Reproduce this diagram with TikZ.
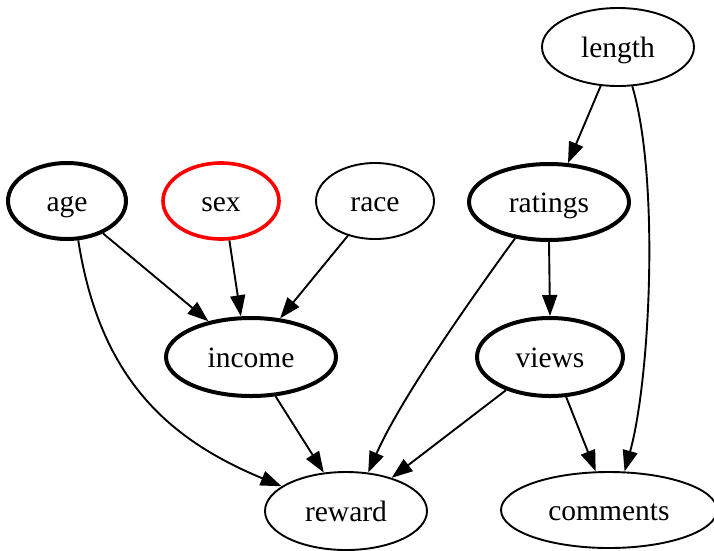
\documentclass[tikz,border=0pt]{standalone}
\usepackage{fontspec}
\setmainfont{Liberation Serif}
\usetikzlibrary{shapes.geometric,arrows.meta}
\tikzset{
  var/.style={ellipse, draw, line width=1.9pt, inner sep=0pt,
    font=\fontsize{29.5}{34}\selectfont, text height=22pt, text depth=2pt},
  thickvar/.style={var, line width=4pt},
  redvar/.style={var, line width=3.6pt, draw=red},
  edge/.style={line width=1.9pt, -{Triangle[length=21pt,width=15pt]}},
}
\begin{document}
\begin{tikzpicture}[x=1pt,y=-1pt]
  \useasboundingbox (0,0) rectangle (714,550);

  % variables
  \node[var, minimum width=152pt, minimum height=78pt]      (length)   at (618,47)  {length};
  \node[thickvar, minimum width=118pt, minimum height=76pt] (age)      at (67,201)  {age};
  \node[redvar, minimum width=116pt, minimum height=76pt]   (sex)      at (221,201) {sex};
  \node[var, minimum width=118pt, minimum height=76pt]      (race)     at (375,201) {race};
  \node[thickvar, minimum width=160pt, minimum height=76pt] (ratings)  at (549,202) {ratings};
  \node[thickvar, minimum width=170pt, minimum height=78pt] (income)   at (251,357) {income};
  \node[thickvar, minimum width=146pt, minimum height=78pt] (views)    at (550,357) {views};
  \node[var, minimum width=162pt, minimum height=78pt]      (reward)   at (346,511) {reward};
  \node[var, minimum width=216pt, minimum height=76pt]      (comments) at (609,510) {comments};

  % straight dependencies
  \draw[edge] (length.-114) -- (ratings.64);
  \draw[edge] (age.-42) -- (income.140);
  \draw[edge] (sex.-78) -- (income.104);
  \draw[edge] (race.-128) -- (income.53);
  \draw[edge] (ratings.-90) -- (views.90);
  \draw[edge] (income.-58) -- (reward.120);
  \draw[edge] (views.-143) -- (reward.36);
  \draw[edge] (views.-68) -- (comments.109);

  % curved dependencies
  \draw[edge] (age.-74) .. controls (100,380) and (170,440) .. (reward.159);
  \draw[edge] (ratings.-133) .. controls (470,300) and (400,400) .. (reward.60);
  \draw[edge] (length.-70) .. controls (660,180) and (650,380) .. (comments.68);
\end{tikzpicture}
\end{document}
